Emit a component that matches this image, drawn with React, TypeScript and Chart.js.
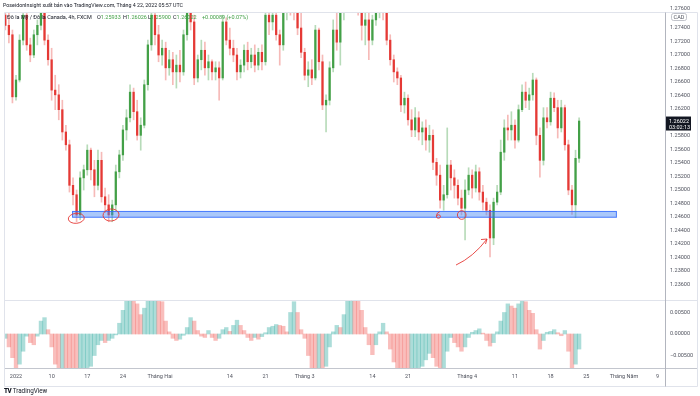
import React, { useEffect, useRef } from "react";
import { Chart, registerables } from "chart.js";

Chart.register(...registerables);

// ---- data (USD/CAD, aggregated 12h candles; x = trading-day index, Jan 3 2022 = 0) ----
const FIRST_BAR_DAY = -1.5;
const BAR_STEP = 0.5;

const opens = [
  1.2759, 1.2744, 1.2730, 1.2638, 1.2663, 1.2722, 1.2759, 1.2715, 1.2700, 1.2730,
  1.2744, 1.2774, 1.2722, 1.2693, 1.2648, 1.2641, 1.2619, 1.2586, 1.2567, 1.2507,
  1.2493, 1.2463, 1.2518, 1.2530, 1.2559, 1.2530, 1.2507, 1.2544, 1.2490, 1.2478,
  1.2463, 1.2478, 1.2527, 1.2552, 1.2589, 1.2607, 1.2645, 1.2616, 1.2581, 1.2596,
  1.2656, 1.2715, 1.2759, 1.2730, 1.2700, 1.2710, 1.2681, 1.2693, 1.2675, 1.2685,
  1.2675, 1.2730, 1.2764, 1.2749, 1.2666, 1.2693, 1.2707, 1.2681, 1.2690, 1.2675,
  1.2681, 1.2666, 1.2749, 1.2722, 1.2710, 1.2700, 1.2675, 1.2685, 1.2707, 1.2690,
  1.2700, 1.2685, 1.2704, 1.2690, 1.2759, 1.2749, 1.2759, 1.2730, 1.2715, 1.2764,
  1.2774, 1.2770, 1.2767, 1.2740, 1.2704, 1.2670, 1.2678, 1.2666, 1.2737, 1.2690,
  1.2626, 1.2633, 1.2681, 1.2737, 1.2719, 1.2764, 1.2774, 1.2777, 1.2774, 1.2776,
  1.2770, 1.2744, 1.2752, 1.2722, 1.2752, 1.2767, 1.2773, 1.2764, 1.2722, 1.2693,
  1.2675, 1.2666, 1.2626, 1.2636, 1.2604, 1.2589, 1.2607, 1.2586, 1.2592, 1.2574,
  1.2581, 1.2541, 1.2522, 1.2485, 1.2493, 1.2537, 1.2518, 1.2507, 1.2488, 1.2473,
  1.2500, 1.2522, 1.2503, 1.2527, 1.2497, 1.2482, 1.2470, 1.2429, 1.2482, 1.2497,
  1.2556, 1.2592, 1.2589, 1.2596, 1.2574, 1.2619, 1.2645, 1.2633, 1.2641, 1.2663,
  1.2581, 1.2544, 1.2607, 1.2601, 1.2636, 1.2622, 1.2592, 1.2622, 1.2567, 1.2500,
  1.2478, 1.2547,
];

const highs = [
  1.2774, 1.2764, 1.2737, 1.2670, 1.2730, 1.2774, 1.2767, 1.2725, 1.2737, 1.2752,
  1.2782, 1.2782, 1.2730, 1.2710, 1.2670, 1.2656, 1.2633, 1.2596, 1.2574, 1.2518,
  1.2500, 1.2527, 1.2537, 1.2567, 1.2562, 1.2544, 1.2559, 1.2556, 1.2503, 1.2493,
  1.2485, 1.2537, 1.2559, 1.2596, 1.2619, 1.2656, 1.2651, 1.2633, 1.2607, 1.2663,
  1.2722, 1.2767, 1.2774, 1.2744, 1.2722, 1.2719, 1.2707, 1.2704, 1.2700, 1.2707,
  1.2737, 1.2774, 1.2774, 1.2759, 1.2700, 1.2722, 1.2719, 1.2700, 1.2693, 1.2690,
  1.2690, 1.2759, 1.2755, 1.2740, 1.2722, 1.2710, 1.2693, 1.2715, 1.2719, 1.2710,
  1.2715, 1.2710, 1.2715, 1.2767, 1.2774, 1.2770, 1.2767, 1.2737, 1.2774, 1.2782,
  1.2782, 1.2782, 1.2774, 1.2764, 1.2710, 1.2690, 1.2693, 1.2744, 1.2740, 1.2700,
  1.2641, 1.2690, 1.2752, 1.2767, 1.2774, 1.2782, 1.2782, 1.2782, 1.2782, 1.2782,
  1.2779, 1.2767, 1.2767, 1.2759, 1.2774, 1.2782, 1.2782, 1.2774, 1.2730, 1.2700,
  1.2681, 1.2670, 1.2645, 1.2641, 1.2619, 1.2622, 1.2616, 1.2601, 1.2604, 1.2596,
  1.2589, 1.2547, 1.2537, 1.2507, 1.2592, 1.2544, 1.2530, 1.2515, 1.2500, 1.2515,
  1.2533, 1.2530, 1.2537, 1.2533, 1.2507, 1.2488, 1.2478, 1.2488, 1.2507, 1.2574,
  1.2604, 1.2611, 1.2616, 1.2604, 1.2626, 1.2656, 1.2660, 1.2651, 1.2673, 1.2666,
  1.2592, 1.2622, 1.2622, 1.2645, 1.2644, 1.2633, 1.2633, 1.2626, 1.2574, 1.2507,
  1.2559, 1.2607,
];

const lows = [
  1.2737, 1.2718, 1.2629, 1.2633, 1.2660, 1.2715, 1.2707, 1.2690, 1.2696, 1.2715,
  1.2737, 1.2715, 1.2685, 1.2633, 1.2619, 1.2604, 1.2574, 1.2559, 1.2497, 1.2478,
  1.2453, 1.2456, 1.2500, 1.2522, 1.2515, 1.2490, 1.2500, 1.2482, 1.2467, 1.2453,
  1.2453, 1.2470, 1.2518, 1.2544, 1.2574, 1.2601, 1.2604, 1.2574, 1.2559, 1.2592,
  1.2648, 1.2707, 1.2715, 1.2690, 1.2685, 1.2663, 1.2670, 1.2656, 1.2651, 1.2660,
  1.2670, 1.2722, 1.2737, 1.2656, 1.2660, 1.2678, 1.2670, 1.2663, 1.2663, 1.2663,
  1.2633, 1.2663, 1.2715, 1.2700, 1.2690, 1.2663, 1.2666, 1.2675, 1.2678, 1.2681,
  1.2675, 1.2678, 1.2678, 1.2685, 1.2730, 1.2737, 1.2722, 1.2685, 1.2707, 1.2752,
  1.2759, 1.2752, 1.2730, 1.2696, 1.2663, 1.2653, 1.2656, 1.2663, 1.2678, 1.2619,
  1.2586, 1.2626, 1.2675, 1.2707, 1.2685, 1.2752, 1.2767, 1.2764, 1.2767, 1.2759,
  1.2722, 1.2715, 1.2693, 1.2715, 1.2744, 1.2755, 1.2752, 1.2715, 1.2685, 1.2660,
  1.2656, 1.2616, 1.2614, 1.2596, 1.2579, 1.2579, 1.2574, 1.2567, 1.2559, 1.2556,
  1.2530, 1.2507, 1.2473, 1.2470, 1.2488, 1.2500, 1.2488, 1.2478, 1.2463, 1.2426,
  1.2493, 1.2488, 1.2497, 1.2485, 1.2470, 1.2463, 1.2401, 1.2419, 1.2478, 1.2493,
  1.2544, 1.2574, 1.2574, 1.2562, 1.2571, 1.2616, 1.2622, 1.2619, 1.2633, 1.2567,
  1.2519, 1.2537, 1.2592, 1.2596, 1.2616, 1.2577, 1.2586, 1.2559, 1.2493, 1.2464,
  1.2459, 1.2541,
];

const closes = [
  1.2744, 1.2730, 1.2638, 1.2663, 1.2722, 1.2759, 1.2715, 1.2700, 1.2730, 1.2744,
  1.2774, 1.2722, 1.2693, 1.2648, 1.2641, 1.2619, 1.2586, 1.2567, 1.2507, 1.2493,
  1.2463, 1.2518, 1.2530, 1.2559, 1.2530, 1.2507, 1.2544, 1.2490, 1.2478, 1.2463,
  1.2478, 1.2527, 1.2552, 1.2589, 1.2607, 1.2645, 1.2616, 1.2581, 1.2596, 1.2656,
  1.2715, 1.2759, 1.2730, 1.2700, 1.2710, 1.2681, 1.2693, 1.2675, 1.2685, 1.2675,
  1.2730, 1.2764, 1.2749, 1.2666, 1.2693, 1.2707, 1.2681, 1.2690, 1.2675, 1.2681,
  1.2666, 1.2749, 1.2722, 1.2710, 1.2700, 1.2675, 1.2685, 1.2707, 1.2690, 1.2700,
  1.2685, 1.2704, 1.2690, 1.2759, 1.2749, 1.2759, 1.2730, 1.2715, 1.2764, 1.2774,
  1.2770, 1.2767, 1.2740, 1.2704, 1.2670, 1.2678, 1.2666, 1.2737, 1.2690, 1.2626,
  1.2633, 1.2681, 1.2737, 1.2719, 1.2764, 1.2774, 1.2777, 1.2774, 1.2776, 1.2770,
  1.2744, 1.2752, 1.2722, 1.2752, 1.2767, 1.2773, 1.2764, 1.2722, 1.2693, 1.2675,
  1.2666, 1.2626, 1.2636, 1.2604, 1.2589, 1.2607, 1.2586, 1.2592, 1.2574, 1.2581,
  1.2541, 1.2522, 1.2485, 1.2493, 1.2537, 1.2518, 1.2507, 1.2488, 1.2473, 1.2500,
  1.2522, 1.2503, 1.2527, 1.2497, 1.2482, 1.2470, 1.2429, 1.2482, 1.2497, 1.2556,
  1.2592, 1.2589, 1.2596, 1.2574, 1.2619, 1.2645, 1.2633, 1.2641, 1.2663, 1.2581,
  1.2544, 1.2607, 1.2601, 1.2636, 1.2622, 1.2592, 1.2622, 1.2567, 1.2500, 1.2478,
  1.2547, 1.26022,
];

const oscillator = [
  -0.0010, -0.0030, -0.0055, -0.0080, -0.0070, -0.0040, -0.0005, -0.0020, -0.0025, -0.0005,
  0.0030, 0.0038, 0.0010, -0.0030, -0.0070, -0.0090, -0.0090, -0.0100, -0.0110, -0.0120,
  -0.0130, -0.0120, -0.0110, -0.0090, -0.0075, -0.0050, -0.0025, -0.0015, -0.0020, -0.0015,
  -0.0010, -0.0002, 0.0025, 0.0055, 0.0080, 0.0095, 0.0090, 0.0070, 0.0045, 0.0060,
  0.0085, 0.0100, 0.0110, 0.0100, 0.0075, 0.0030, 0.0005, -0.0010, -0.0015, -0.0012,
  -0.0003, 0.0015, 0.0038, 0.0030, 0.0008, -0.0005, -0.0008, 0.0008, -0.0008, -0.0015,
  -0.0010, 0.0010, 0.0015, 0.0006, 0.0020, 0.0032, 0.0020, 0.0008, -0.0008, -0.0015,
  -0.0008, -0.0012, -0.0006, 0.0003, 0.0015, 0.0018, 0.0022, 0.0020, 0.0018, 0.0005,
  0.0050, 0.0075, 0.0050, 0.0010, -0.0010, -0.0050, -0.0085, -0.0090, -0.0085, -0.0095,
  -0.0075, -0.0030, 0.0005, 0.0020, 0.0015, 0.0045, 0.0090, 0.0105, 0.0100, 0.0080,
  0.0055, 0.0015, -0.0025, -0.0048, -0.0025, 0.0005, 0.0025, 0.0005, -0.0035, -0.0065,
  -0.0085, -0.0095, -0.0100, -0.0105, -0.0100, -0.0090, -0.0085, -0.0075, -0.0060, -0.0045,
  -0.0055, -0.0075, -0.0090, -0.0080, -0.0040, -0.0008, -0.0020, -0.0030, -0.0040, -0.0030,
  -0.0008, 0.0004, 0.0008, 0.0012, 0.0002, -0.0015, -0.0028, -0.0020, 0.0005, 0.0030,
  0.0050, 0.0070, 0.0065, 0.0060, 0.0070, 0.0078, 0.0075, 0.0055, 0.0048, 0.0010,
  -0.0035, -0.0015, 0.0004, 0.0006, 0.0010, 0.0003, -0.0004, 0.0008, -0.0040, -0.0090,
  -0.0070, -0.0035,
];

const priceTicks = [
  1.236, 1.238, 1.24, 1.242, 1.244, 1.246, 1.248, 1.25, 1.252, 1.254,
  1.256, 1.258, 1.262, 1.264, 1.266, 1.268, 1.27, 1.272, 1.274,
];
const oscTicks = [-0.005, 0, 0.005];
const timeTickDays = [0, 5, 10, 15, 20.2, 30, 35, 40.5, 50, 55, 63.3, 70, 75, 80, 85.3, 90];
const timeTickLabels = [
  "2022", "10", "17", "24", "Tháng Hai", "14", "21", "Tháng 3",
  "14", "21", "Tháng 4", "11", "18", "25", "Tháng Năm", "9",
];

// support zone drawn by the author (trading days / prices)
const zoneStartDay = 7.86;
const zoneEndDay = 84.3;
const zoneTop = 1.2469;
const zoneBottom = 1.2459;

// hand-drawn marks (trading day, price)
const markEllipses = [
  { day: 8.46, price: 1.24581 },
  { day: 13.33, price: 1.2463 },
];
const markCircle = { day: 62.53, price: 1.2463 };
const markSix = { day: 59.27, price: 1.2463 };
const arrowFrom = { day: 61.73, price: 1.23889 };
const arrowTo = { day: 66.08, price: 1.24274 };

const lastPriceLabel = "1.26022";
const countdownLabel = "03:02:13";

// ---- styles ----
const FONT = "Roboto, 'Liberation Sans', Arial, sans-serif";
const GREEN = "#43a047";
const RED = "#e53935";
const GREEN_WICK = "rgba(67,160,71,0.38)";
const RED_WICK = "rgba(229,57,53,0.35)";
const OSC_TEAL = "rgba(38,166,154,0.38)";
const OSC_RED = "rgba(239,83,80,0.38)";
const AXIS_TEXT = "#50535e";

const X_MIN = -1.543;
const X_MAX = 91.05;
const P_MIN = 1.23371;
const P_MAX = 1.27637;
const O_MIN = -0.0079;
const O_MAX = 0.0079;

const paneClip = {
  id: "paneClip",
  beforeDatasetDraw(chart: any, args: any) {
    const { xScale, yScale } = args.meta;
    const ctx = chart.ctx;
    ctx.save();
    ctx.beginPath();
    ctx.rect(xScale.left, yScale.top, xScale.right - xScale.left, yScale.bottom - yScale.top);
    ctx.clip();
  },
  afterDatasetDraw(chart: any) {
    chart.ctx.restore();
  },
};

const overlay = {
  id: "overlay",
  afterDraw(chart: any) {
    const ctx = chart.ctx as CanvasRenderingContext2D;
    const xs = chart.scales.x;
    const ys = chart.scales.y;
    const yo = chart.scales.yo;
    const L = chart.chartArea.left;
    const R = chart.chartArea.right;
    const px = (d: number) => xs.getPixelForValue(d);
    const py = (p: number) => ys.getPixelForValue(p);

    // support zone + marks, clipped to price pane
    ctx.save();
    ctx.beginPath();
    ctx.rect(L, ys.top, R - L, ys.bottom - ys.top);
    ctx.clip();
    const zx0 = px(zoneStartDay);
    const zx1 = px(zoneEndDay);
    const zy0 = py(zoneTop);
    const zy1 = py(zoneBottom);
    ctx.fillStyle = "rgba(66,133,244,0.45)";
    ctx.fillRect(zx0, zy0, zx1 - zx0, zy1 - zy0);
    ctx.strokeStyle = "rgba(41,98,255,0.75)";
    ctx.lineWidth = 1;
    ctx.strokeRect(zx0 + 0.5, zy0 + 0.5, zx1 - zx0 - 1, zy1 - zy0 - 1);

    ctx.strokeStyle = "#e53935";
    ctx.lineWidth = 0.9;
    markEllipses.forEach((m, i) => {
      ctx.beginPath();
      ctx.ellipse(px(m.day), py(m.price), 8, i === 0 ? 5 : 6, -0.1, 0, Math.PI * 2);
      ctx.stroke();
    });
    ctx.beginPath();
    ctx.arc(px(markCircle.day), py(markCircle.price), 4.3, 0, Math.PI * 2);
    ctx.stroke();
    // "6"-like scribble
    const sx = px(markSix.day);
    const sy = py(markSix.price);
    ctx.beginPath();
    ctx.moveTo(sx + 1.5, sy - 3.5);
    ctx.quadraticCurveTo(sx - 2.5, sy - 2, sx - 2, sy + 1.5);
    ctx.ellipse(sx, sy + 1.5, 2, 1.7, 0, Math.PI, Math.PI * 3);
    ctx.stroke();
    // arrow
    const ax0 = px(arrowFrom.day);
    const ay0 = py(arrowFrom.price);
    const ax1 = px(arrowTo.day);
    const ay1 = py(arrowTo.price);
    ctx.beginPath();
    ctx.moveTo(ax0, ay0);
    ctx.quadraticCurveTo(ax0 + (ax1 - ax0) * 0.55, ay0 - (ay0 - ay1) * 0.3, ax1, ay1);
    ctx.moveTo(ax1 - 6, ay1 + 0.5);
    ctx.lineTo(ax1, ay1);
    ctx.lineTo(ax1 - 1.5, ay1 + 5);
    ctx.stroke();
    ctx.restore();

    // frame and separators
    ctx.save();
    ctx.lineWidth = 1;
    const hline = (y: number, x0: number, x1: number, c: string) => {
      ctx.strokeStyle = c;
      ctx.beginPath();
      ctx.moveTo(x0, y);
      ctx.lineTo(x1, y);
      ctx.stroke();
    };
    const vline = (x: number, y0: number, y1: number, c: string) => {
      ctx.strokeStyle = c;
      ctx.beginPath();
      ctx.moveTo(x, y0);
      ctx.lineTo(x, y1);
      ctx.stroke();
    };
    const top = Math.round(ys.top) + 0.5;
    const bottom = Math.round(yo.bottom) + 0.5;
    hline(top, 4.5, 697.5, "#e0e3eb");
    hline(Math.round(ys.bottom) + 0.5, L, 697.5, "#e0e3eb");
    hline(bottom, 4.5, 697.5, "#c3c6ce");
    hline(386.5, 4.5, 697.5, "#e0e3eb");
    vline(4.5, top, 386.5, "#e0e3eb");
    vline(Math.round(R) + 0.5, top, 386.5, "#b2b5be");
    vline(697.5, top, 386.5, "#e0e3eb");
    ctx.restore();

    // axis extras: top price + currency, last price tag
    ctx.save();
    ctx.font = `5.5px ${FONT}`;
    ctx.textBaseline = "middle";
    ctx.fillStyle = AXIS_TEXT;
    ctx.fillText("1.27600", R + 5, 9);
    ctx.strokeStyle = "#b2b5be";
    ctx.lineWidth = 0.8;
    ctx.beginPath();
    (ctx as any).roundRect(R + 6.5, 13.5, 15, 7, 2);
    ctx.fillStyle = "#ffffff";
    ctx.fill();
    ctx.stroke();
    ctx.fillStyle = AXIS_TEXT;
    ctx.textAlign = "center";
    ctx.fillText("CAD", R + 14, 17.2);
    const ly = py(closes[closes.length - 1]);
    ctx.fillStyle = "#131722";
    ctx.fillRect(R + 1, ly - 4.5, 25, 14);
    ctx.fillStyle = "#ffffff";
    ctx.textAlign = "left";
    ctx.fillText(lastPriceLabel, R + 4, ly + 0.5);
    ctx.fillText(countdownLabel, R + 4, ly + 6.5);
    ctx.restore();
  },
};

export default function App() {
  const ref = useRef<HTMLCanvasElement>(null);

  useEffect(() => {
    document.body.style.margin = "0";
    const canvas = ref.current!;
    const barX = closes.map((_, i) => FIRST_BAR_DAY + i * BAR_STEP);
    const up = (i: number) => closes[i] >= opens[i];

    const chart = new Chart(canvas, {
      type: "bar",
      data: {
        datasets: [
          {
            label: "wick",
            data: barX.map((x, i) => ({ x, y: [lows[i], highs[i]] })) as any,
            yAxisID: "y",
            barThickness: 1,
            grouped: false,
            order: 3,
            backgroundColor: (c: any) => (up(c.dataIndex) ? GREEN_WICK : RED_WICK),
          } as any,
          {
            label: "body",
            data: barX.map((x, i) => ({ x, y: [opens[i], closes[i]] })) as any,
            yAxisID: "y",
            barThickness: 1.6,
            minBarLength: 1,
            grouped: false,
            order: 2,
            backgroundColor: (c: any) => (up(c.dataIndex) ? GREEN : RED),
          } as any,
          {
            label: "oscillator",
            data: barX.map((x, i) => ({ x, y: oscillator[i] })) as any,
            yAxisID: "yo",
            barThickness: 3.7,
            grouped: false,
            order: 1,
            backgroundColor: (c: any) => {
              const i = c.dataIndex;
              return i > 0 && oscillator[i] < oscillator[i - 1] ? OSC_RED : OSC_TEAL;
            },
          } as any,
        ],
      },
      options: {
        responsive: false,
        animation: false,
        devicePixelRatio: 1,
        events: [],
        layout: { padding: { top: 12, left: 5, right: 3, bottom: 10 } },
        plugins: { legend: { display: false }, tooltip: { enabled: false } },
        scales: {
          x: {
            type: "linear",
            min: X_MIN,
            max: X_MAX,
            offset: false,
            grid: { display: false, offset: false, drawTicks: false, tickLength: 0 },
            border: { display: false },
            afterBuildTicks: (s: any) => {
              s.ticks = timeTickDays.map((v) => ({ value: v }));
            },
            afterFit: (s: any) => {
              s.height = 18;
            },
            ticks: {
              autoSkip: false,
              maxRotation: 0,
              minRotation: 0,
              padding: 5,
              color: AXIS_TEXT,
              font: { size: 5.5, family: FONT },
              callback: (_v: any, i: number) => timeTickLabels[i],
            },
          },
          y: {
            type: "linear",
            position: "right",
            stack: "panes",
            stackWeight: 288,
            min: P_MIN,
            max: P_MAX,
            grid: { display: false, drawTicks: false, tickLength: 0 },
            border: { display: false },
            afterBuildTicks: (s: any) => {
              s.ticks = priceTicks.map((v) => ({ value: v }));
            },
            afterFit: (s: any) => {
              s.width = 32;
            },
            ticks: {
              autoSkip: false,
              padding: 5,
              color: AXIS_TEXT,
              font: { size: 5.5, family: FONT },
              callback: (v: any) => Number(v).toFixed(5),
            },
          },
          yo: {
            type: "linear",
            position: "right",
            stack: "panes",
            stackWeight: 68,
            min: O_MIN,
            max: O_MAX,
            grid: { display: false, drawTicks: false, tickLength: 0 },
            border: { display: false },
            afterBuildTicks: (s: any) => {
              s.ticks = oscTicks.map((v) => ({ value: v }));
            },
            afterFit: (s: any) => {
              s.width = 32;
            },
            ticks: {
              autoSkip: false,
              padding: 5,
              color: AXIS_TEXT,
              font: { size: 5.5, family: FONT },
              callback: (v: any) => {
                const n = Number(v);
                return n < 0 ? "\u2212" + Math.abs(n).toFixed(5) : n.toFixed(5);
              },
            },
          },
        },
      } as any,
      plugins: [paneClip, overlay],
    });
    return () => chart.destroy();
  }, []);

  const txt: React.CSSProperties = {
    position: "absolute",
    fontFamily: FONT,
    whiteSpace: "nowrap",
    lineHeight: 1,
  };
  const legendGreen = "#43a047";
  const legendDark = "#131722";

  return (
    <div style={{ position: "relative", width: 700, height: 396, background: "#ffffff", overflow: "hidden" }}>
      <canvas ref={ref} width={700} height={396} style={{ position: "absolute", left: 0, top: 0, display: "block" }} />
      <div style={{ ...txt, left: 3, top: 3, fontSize: 5.3, color: legendDark }}>
        PoseidonInsight xuất bản vào TradingView.com, Tháng 4 22, 2022 05:57 UTC
      </div>
      <div style={{ ...txt, left: 7, top: 14.5, fontSize: 5.5, color: legendDark }}>
        Đô la Mỹ / Đô la Canada, 4h, FXCM
      </div>
      <div style={{ ...txt, left: 97, top: 14.5, fontSize: 5.5, color: legendDark }}>
        O<span style={{ color: legendGreen }}>1.25933</span>
      </div>
      <div style={{ ...txt, left: 123, top: 14.5, fontSize: 5.5, color: legendDark }}>
        H<span style={{ color: legendGreen }}>1.26026</span>
      </div>
      <div style={{ ...txt, left: 148, top: 14.5, fontSize: 5.5, color: legendDark }}>
        L<span style={{ color: legendGreen }}>1.25900</span>
      </div>
      <div style={{ ...txt, left: 173, top: 14.5, fontSize: 5.5, color: legendDark }}>
        C<span style={{ color: legendGreen }}>1.26022</span>
      </div>
      <div style={{ ...txt, left: 202, top: 14.5, fontSize: 5.5, color: legendGreen }}>
        +0.00089 (+0.07%)
      </div>
      <div style={{ ...txt, left: 4, top: 387.5, fontSize: 6.3, color: legendDark }}>
        <span style={{ fontWeight: 900, letterSpacing: -0.5 }}>TV</span> TradingView
      </div>
    </div>
  );
}
